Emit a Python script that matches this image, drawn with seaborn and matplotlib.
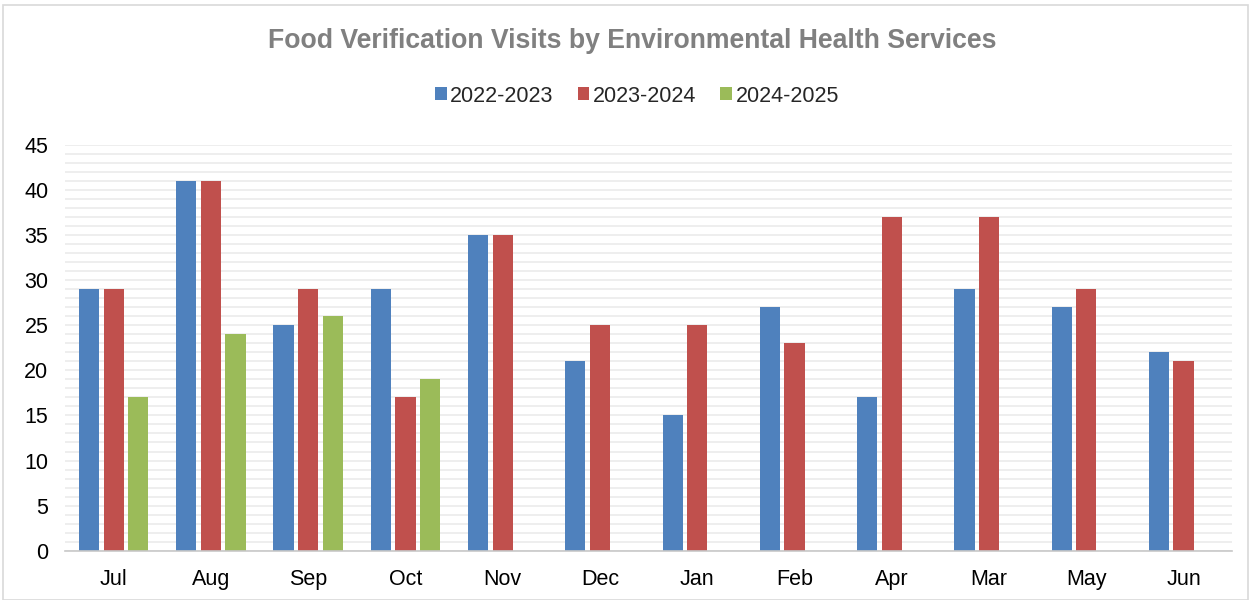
import matplotlib
matplotlib.use("Agg")
import matplotlib.pyplot as plt
import numpy as np
import pandas as pd
import seaborn as sns
from matplotlib.patches import Rectangle
from matplotlib.ticker import MultipleLocator

months = ["Jul", "Aug", "Sep", "Oct", "Nov", "Dec", "Jan", "Feb", "Apr", "Mar", "May", "Jun"]
years = ["2022-2023", "2023-2024", "2024-2025"]
visits_2022 = [29, 41, 25, 29, 35, 21, 15, 27, 17, 29, 27, 22]
visits_2023 = [29, 41, 29, 17, 35, 25, 25, 23, 37, 37, 29, 21]
visits_2024 = [17, 24, 26, 19, np.nan, np.nan, np.nan, np.nan, np.nan, np.nan, np.nan, np.nan]
colors = ["#4f81bd", "#c0504d", "#9bbb59"]

df = pd.DataFrame({
    "Month": months * 3,
    "Year": [years[0]] * 12 + [years[1]] * 12 + [years[2]] * 12,
    "Visits": visits_2022 + visits_2023 + visits_2024,
})

sns.set_style("white")
plt.rcParams["font.family"] = ["Liberation Sans", "DejaVu Sans"]

fig = plt.figure(figsize=(12.51, 6), dpi=100)
ax = fig.add_axes([0.052, 0.082, 0.933, 0.677])

sns.barplot(data=df, x="Month", y="Visits", hue="Year", order=months, hue_order=years,
            palette=colors, width=0.76, gap=0.18, saturation=1, linewidth=0, ax=ax)

ax.set_ylim(0, 45)
ax.yaxis.set_major_locator(MultipleLocator(5))
ax.yaxis.set_minor_locator(MultipleLocator(1))
ax.grid(axis="y", which="both", color="#ebebeb", linewidth=1.2)
ax.set_axisbelow(True)
ax.set_xlabel("")
ax.set_ylabel("")
ax.tick_params(axis="both", labelsize=15.5, length=0, colors="#000000")
ax.tick_params(axis="x", pad=13)
ax.tick_params(axis="y", pad=12)
for s in ["top", "right", "left"]:
    ax.spines[s].set_visible(False)
ax.spines["bottom"].set_color("#c8c8c8")
ax.spines["bottom"].set_linewidth(1.2)
ax.set_xlim(-0.5, len(months) - 0.5)

leg = ax.legend(loc="center", bbox_to_anchor=(0.509, 0.84), bbox_transform=fig.transFigure,
                ncol=3, frameon=False, fontsize=15.5, handlelength=0.55, handleheight=0.55,
                handletextpad=0.15, columnspacing=1.13)

fig.text(0.505, 0.932, "Food Verification Visits by Environmental Health Services",
         ha="center", va="center", fontsize=19.2, fontweight="bold", color="#808080")

fig.patches.append(Rectangle((0.002, 0.0), 0.996, 0.992, transform=fig.transFigure,
                             fill=False, edgecolor="#d9d9d9", linewidth=1.2))

fig.savefig("out.png", dpi=100)
